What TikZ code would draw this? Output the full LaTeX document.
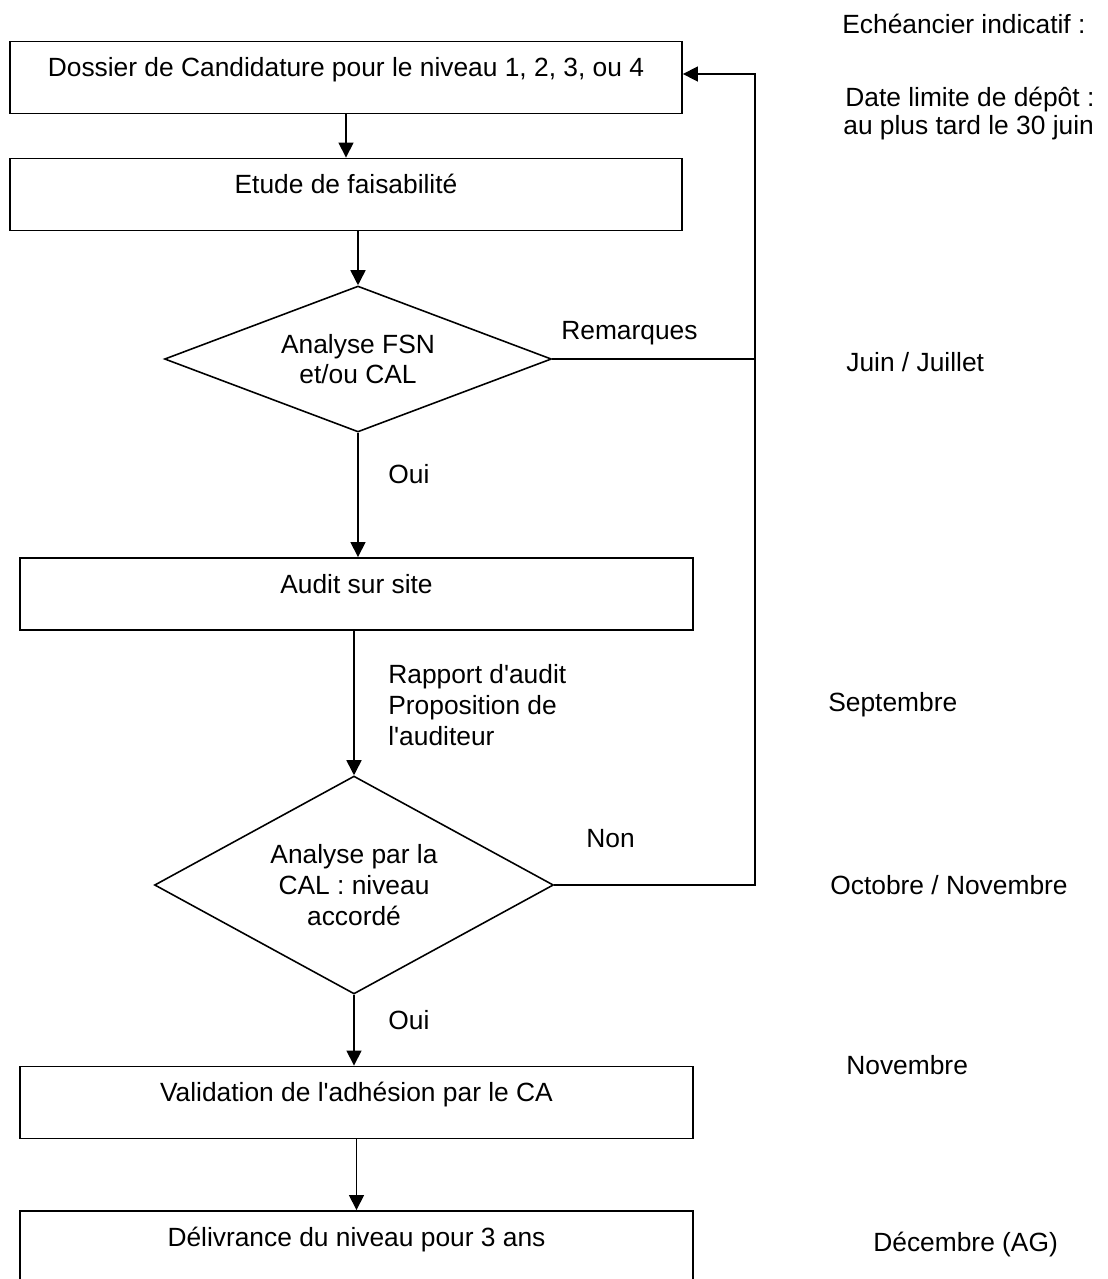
\documentclass[tikz,border=0pt]{standalone}
\usepackage{fontspec}
\setmainfont{Liberation Sans}[Ligatures=TeXOff]
\usetikzlibrary{shapes.geometric,arrows.meta}

\tikzset{step box/.style={draw,line width=1.1pt,minimum width=13.44cm,minimum height=1.44cm,inner sep=0cm,text height=0.4cm,text depth=0.44cm},
decision/.style={draw,diamond,line width=0.9pt,inner sep=0cm,align=center,aspect=2},
month label/.style={anchor=west,inner sep=0cm,text height=0.38cm,text depth=0cm},
branch label/.style={anchor=west,inner sep=0cm,align=left},
connector/.style={line width=0.9pt},
flow arrow/.style={line width=0.9pt,-{Triangle[length=0.3cm,width=0.3cm]}}}

\begin{document}
\begin{tikzpicture}[x=0.02cm,y=-0.02cm,font=\fontsize{15}{17.5}\selectfont]
\useasboundingbox (0,0) rectangle (1108,1279);

%% steps of the procedure
\node [step box] (dossier) at (346,77.5) {Dossier de Candidature pour le niveau 1, 2, 3, ou 4};
\node [step box] (etude) at (346,194.5) {Etude de faisabilité};
\node [decision,minimum width=7.74cm,minimum height=2.92cm] (fsn) at (358,359) {Analyse FSN\\et/ou CAL};
\node [step box,minimum width=13.46cm] (audit) at (356.5,594) {Audit sur site};
\node [decision,minimum width=7.98cm,minimum height=4.36cm] (cal) at (354,885) {Analyse par la\\CAL : niveau\\accordé};
\node [step box,minimum width=13.46cm] (validation) at (356.5,1102.5) {Validation de l'adhésion par le CA};
\node [step box,minimum width=13.46cm] (delivrance) at (356.5,1247) {Délivrance du niveau pour 3 ans};

%% return line
\coordinate (back) at (755,74);

%% arrows
\draw [flow arrow] (dossier) -- (etude);
\draw [flow arrow] (etude.south -| fsn.north) -- (fsn.north);
\draw [flow arrow] (fsn.south) -- (fsn.south |- audit.north);
\draw [flow arrow] (audit.south -| cal.north) -- (cal.north);
\draw [flow arrow] (cal.south) -- (cal.south |- validation.north);
\draw [flow arrow] (validation) -- (delivrance);
\draw [connector] (fsn.east) -- (fsn.east -| back);
\draw [flow arrow] (cal.east) -| (back) -- (dossier.east |- back);

%% branch labels
\node [month label] (remarques) at (561,330) {Remarques};
\node [month label] (oui fsn) at (388,474) {Oui};
\node [branch label] (rapport) at (388,705) {Rapport d'audit\\Proposition de\\l'auditeur};
\node [month label] (non) at (586,838) {Non};
\node [month label] (oui cal) at (388,1020) {Oui};

%% schedule
\node [month label] (echeancier) at (842,24) {Echéancier indicatif :};
\node [month label] (depot) at (845,97) {Date limite de dépôt :};
\node [month label] (juin30) at (843,125) {au plus tard le 30 juin};
\node [month label] (juin) at (846,362) {Juin / Juillet};
\node [month label] (septembre) at (828,702) {Septembre};
\node [month label] (octobre) at (830,885) {Octobre / Novembre};
\node [month label] (novembre) at (846,1065) {Novembre};
\node [month label] (decembre) at (873,1242) {Décembre (AG)};

\end{tikzpicture}
\end{document}
